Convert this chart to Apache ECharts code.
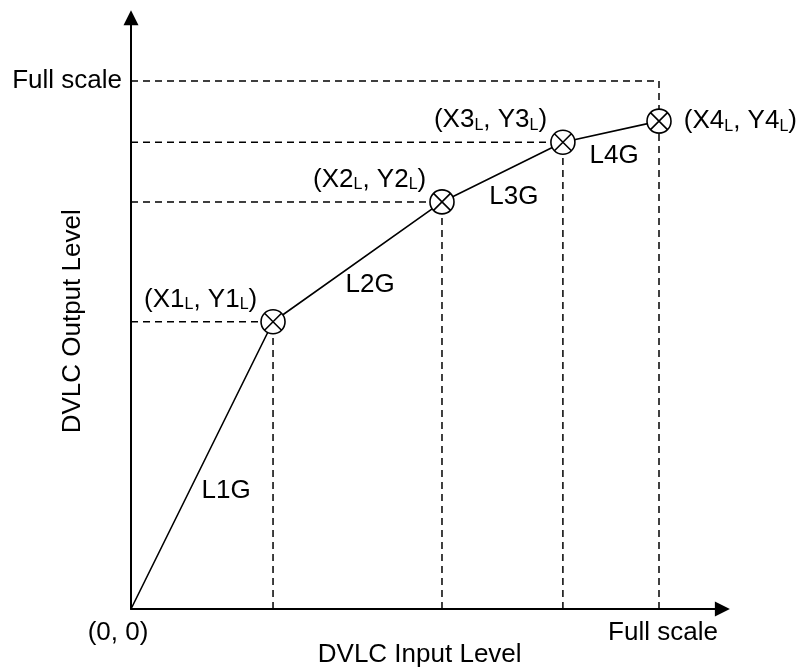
<!DOCTYPE html>
<html>
<head>
<meta charset="utf-8">
<script src="https://cdn.jsdelivr.net/npm/echarts@6/dist/echarts.min.js"></script>
<style>
  html, body { margin: 0; padding: 0; background: #fff; }
  #dvlc-chart { width: 802px; height: 669px; }
</style>
</head>
<body>
<div id="dvlc-chart"></div>
<script>
// break points of the DVLC curve, full scale = 100
const xLevels = [0, 26.9, 58.9, 81.8, 100];
const yLevels = [0, 54.4, 77.1, 88.4, 92.4];
const pointNames = ["1", "2", "3", "4"];
const fullScale = 100;
const axisMax = 112;

// gain segment labels and where they sit
const gainNames = ["L1G", "L2G", "L3G", "L4G"];
const gainX = [18.0, 45.3, 72.5, 91.5];
const gainY = [22.3, 61.4, 78.0, 85.8];

const FONT = "Liberation Sans, Arial, sans-serif";
const FS = 26;

let chartDom = document.getElementById("dvlc-chart");
let myChart = echarts.init(chartDom);

// circle with a cross inside
const crossCircle =
  "path://M0,-10A10,10,0,1,1,0,10A10,10,0,1,1,0,-10Z" +
  "M-7.07,-7.07L7.07,7.07M7.07,-7.07L-7.07,7.07";

let curveData = xLevels.map((x, i) => [x, yLevels[i]]);

// dashed guide segments
let guides = [];
for (let i = 1; i < xLevels.length; i++) {
  // vertical drop to the input axis
  guides.push([[xLevels[i], 0], [xLevels[i], yLevels[i]]]);
  // horizontal line to the output axis (not for the last point)
  if (i < xLevels.length - 1) {
    guides.push([[0, yLevels[i]], [xLevels[i], yLevels[i]]]);
  }
}
// full scale box
guides.push([[0, fullScale], [fullScale, fullScale]]);
guides.push([[fullScale, fullScale], [fullScale, yLevels[yLevels.length - 1]]]);

let guideSeries = guides.map((seg) => ({
  type: "line",
  data: seg,
  symbol: "none",
  silent: true,
  z: 1,
  lineStyle: { color: "#000", width: 1.5, type: [7, 5] },
}));

let pointData = [];
for (let i = 1; i < xLevels.length; i++) {
  let n = pointNames[i - 1];
  let last = i === xLevels.length - 1;
  pointData.push({
    value: [xLevels[i], yLevels[i]],
    label: {
      show: true,
      position: last ? "right" : "left",
      distance: last ? 12 : 3,
      offset: last ? [0, 0] : [0, -22],
      formatter: "(X" + n + "{s|L}, Y" + n + "{s|L})",
    },
  });
}

let option = {
  animation: false,
  textStyle: { fontFamily: FONT },
  grid: {
    left: 131,
    right: 79.64,
    top: 17.64,
    bottom: 60,
    containLabel: false,
    outerBoundsMode: "none",
  },
  xAxis: {
    type: "value",
    min: 0,
    max: axisMax,
    interval: fullScale,
    name: "DVLC Input Level",
    nameLocation: "middle",
    nameGap: 33,
    nameMoveOverlap: false,
    nameTextStyle: {
      color: "#000",
      fontSize: FS,
      fontFamily: FONT,
      padding: [0, 14, 0, 0],
    },
    axisLine: {
      show: true,
      lineStyle: { color: "#000", width: 2 },
      symbol: ["none", "triangle"],
      symbolSize: [15, 15],
    },
    axisTick: { show: false },
    splitLine: { show: false },
    axisLabel: {
      margin: 11,
      color: "#000",
      fontSize: FS,
      fontFamily: FONT,
      formatter: function (v) {
        if (v === 0) return "{o|(0, 0)}";
        if (v === fullScale) return "{f|Full scale}";
        return "";
      },
      rich: {
        o: { fontSize: FS, color: "#000", fontFamily: FONT, padding: [0, 26, 0, 0] },
        f: { fontSize: FS, color: "#000", fontFamily: FONT, padding: [0, 0, 0, 8] },
      },
    },
  },
  yAxis: {
    type: "value",
    min: 0,
    max: axisMax,
    interval: fullScale,
    name: "DVLC Output Level",
    nameLocation: "middle",
    nameGap: 45,
    nameMoveOverlap: false,
    nameTextStyle: {
      color: "#000",
      fontSize: FS,
      fontFamily: FONT,
      padding: [0, 16, 0, 0],
    },
    axisLine: {
      show: true,
      lineStyle: { color: "#000", width: 2 },
      symbol: ["none", "triangle"],
      symbolSize: [15, 15],
    },
    axisTick: { show: false },
    splitLine: { show: false },
    axisLabel: {
      margin: 9,
      color: "#000",
      fontSize: FS,
      fontFamily: FONT,
      formatter: function (v) {
        return v === fullScale ? "Full scale" : "";
      },
    },
  },
  series: [
    ...guideSeries,
    {
      type: "line",
      data: curveData,
      symbol: "none",
      z: 3,
      lineStyle: { color: "#000", width: 1.6 },
    },
    {
      type: "scatter",
      data: pointData,
      symbol: crossCircle,
      symbolSize: 24,
      symbolKeepAspect: true,
      z: 5,
      itemStyle: { color: "#fff", borderColor: "#000", borderWidth: 1.6, opacity: 1 },
      label: {
        color: "#000",
        fontSize: FS,
        fontFamily: FONT,
        rich: {
          s: {
            fontSize: 16,
            lineHeight: 11,
            color: "#000",
            fontFamily: FONT,
            verticalAlign: "bottom",
          },
        },
      },
      emphasis: { disabled: true },
    },
    {
      type: "scatter",
      data: gainNames.map((name, i) => ({ value: [gainX[i], gainY[i]], name: name })),
      symbolSize: 0,
      silent: true,
      z: 6,
      itemStyle: { opacity: 1 },
      label: {
        show: true,
        position: [0, 0],
        align: "center",
        verticalAlign: "middle",
        formatter: "{b}",
        color: "#000",
        textBorderWidth: 0,
        fontSize: FS,
        fontFamily: FONT,
      },
    },
  ],
};

myChart.setOption(option);
</script>
</body>
</html>
